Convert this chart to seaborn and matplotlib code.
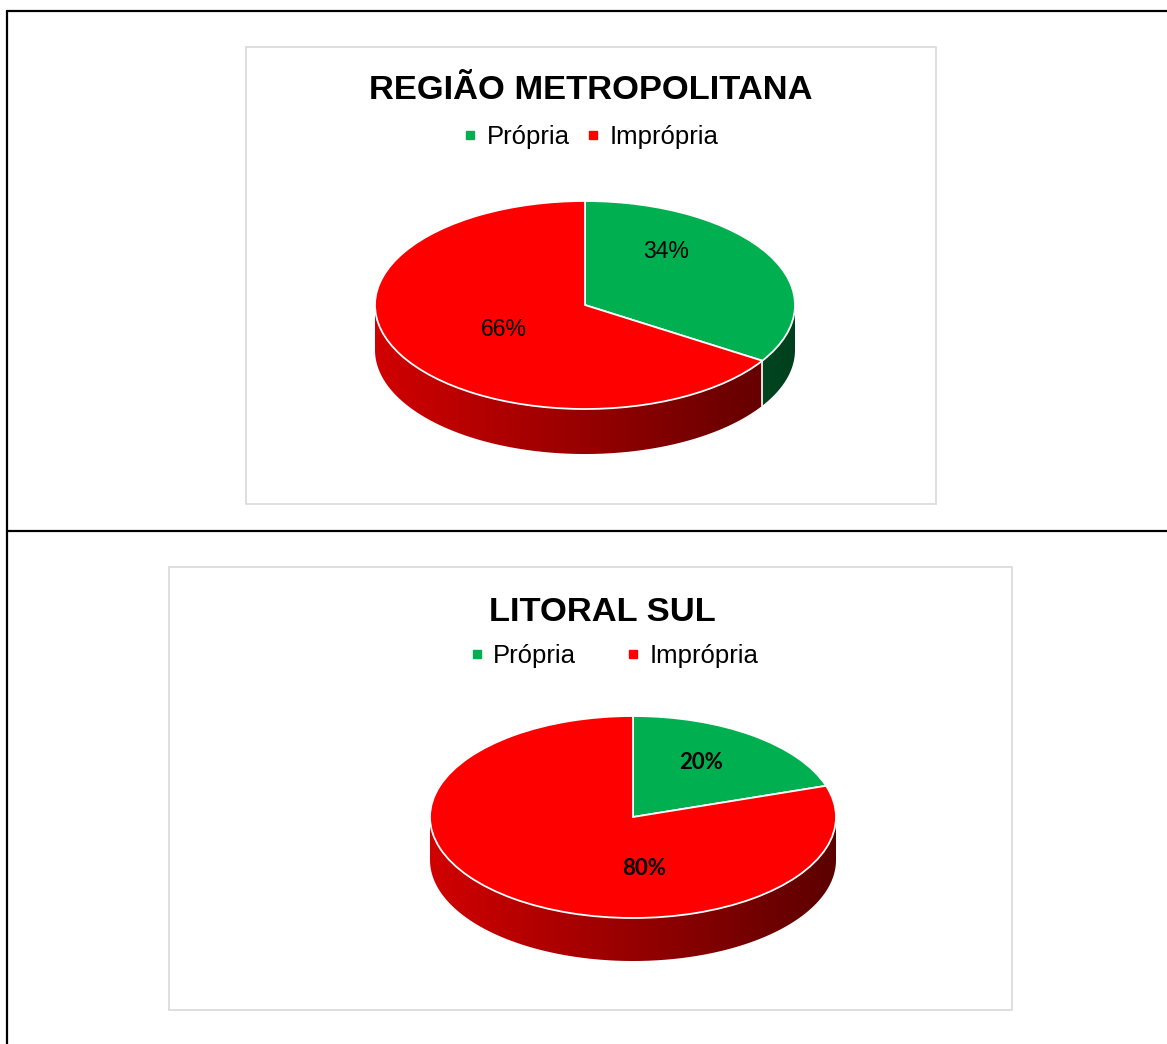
import numpy as np
import matplotlib
matplotlib.use("Agg")
import matplotlib.pyplot as plt
import seaborn as sns
from matplotlib.lines import Line2D
from matplotlib.patches import Rectangle, Polygon
from matplotlib.colors import to_rgb

# data
categories = ["Própria", "Imprópria"]
metro_values = [34, 66]
sul_values = [20, 80]
metro_title = "REGIÃO METROPOLITANA"
sul_title = "LITORAL SUL"
palette = ["#00B050", "#FF0000"]

W, H = 1167, 1044
sns.set_theme(style="white")
plt.rcParams["font.family"] = ["Liberation Sans", "DejaVu Sans"]
plt.rcParams["text.color"] = "black"

fig = plt.figure(figsize=(W / 100, H / 100), dpi=100)


def fx(x):
    return x / W


def fy(y):
    return 1 - y / H


# table borders
for xs, ys in [((7, W), (11, 11)), ((7, 7), (11, H)), ((7, W), (531, 531))]:
    fig.add_artist(Line2D([fx(x) for x in xs], [fy(y) for y in ys], color="black",
                          lw=1.6, transform=fig.transFigure))


def draw_panel(values, title, box, center, radii, depth, title_pos, legend_pos,
               colspacing, label_pos, label_font):
    x0, y0, x1, y1 = box
    fig.add_artist(Rectangle((fx(x0), fy(y1)), (x1 - x0) / W, (y1 - y0) / H,
                             transform=fig.transFigure, fill=False,
                             edgecolor="#D9D9D9", lw=1.2))
    cx, cy = center
    rx, ry = radii
    d = depth / ry
    m = 0.04
    ax = fig.add_axes([fx(cx - (1 + m) * rx), fy(cy + ry + depth + m * ry),
                       2 * (1 + m) * rx / W, ((2 + 2 * m) * ry + depth) / H])
    wedges, _, autotexts = ax.pie(values, colors=palette, startangle=90,
                                  counterclock=False, autopct="%.0f%%",
                                  wedgeprops=dict(edgecolor="white", linewidth=1.3),
                                  textprops=label_font)

    # side wall of the 3d pie, darker towards the right
    ramp = np.linspace(0.82, 0.36, 256)
    for w, col in zip(wedges, palette):
        for k in (-360, 0, 360, 720):
            a = max(w.theta1 + k, 180)
            b = min(w.theta2 + k, 360)
            if b <= a:
                continue
            t = np.radians(np.linspace(a, b, 150))
            xs, ys = np.cos(t), np.sin(t)
            poly = np.column_stack([np.r_[xs, xs[::-1]], np.r_[ys, ys[::-1] - d]])
            patch = Polygon(poly, closed=True, facecolor="none", edgecolor="none")
            ax.add_patch(patch)
            img = np.array(to_rgb(col))[None, None, :] * ramp[None, :, None]
            im = ax.imshow(img, extent=(-1, 1, -1 - d, 0), aspect="auto", zorder=0,
                           interpolation="bilinear")
            im.set_clip_path(patch)
        th = np.radians(w.theta1 % 360)
        if np.sin(th) < -0.01:
            ax.plot([np.cos(th)] * 2, [np.sin(th), np.sin(th) - d], color="white",
                    lw=1.2, zorder=0.5)

    ax.set_aspect("auto")
    ax.set_xlim(-1 - m, 1 + m)
    ax.set_ylim(-1 - d - m, 1 + m)
    ax.axis("off")

    for txt, pos in zip(autotexts, label_pos):
        txt.set_position(pos)
        txt.set_color("black")

    fig.text(fx(title_pos[0]), fy(title_pos[1]), title, ha="center", va="baseline",
             fontsize=24.8, fontweight="bold", color="black")

    handles = [Line2D([], [], marker="s", linestyle="", markersize=5.5, color=c)
               for c in palette]
    fig.legend(handles, categories, loc="center",
               bbox_to_anchor=(fx(legend_pos[0]), fy(legend_pos[1])),
               bbox_transform=fig.transFigure, ncol=2, frameon=False, fontsize=18.5,
               handlelength=0.4, handletextpad=0.45, columnspacing=colspacing,
               borderpad=0, borderaxespad=0, labelcolor="black")


draw_panel(metro_values, metro_title, box=(246, 47, 936, 504), center=(585, 305),
           radii=(210, 104), depth=45, title_pos=(591, 99), legend_pos=(592, 137),
           colspacing=0.7, label_pos=[(0.386, 0.51), (-0.386, -0.24)],
           label_font=dict(fontsize=16.5, family=["Liberation Sans", "DejaVu Sans"]))

draw_panel(sul_values, sul_title, box=(169, 567, 1012, 1010), center=(633, 817),
           radii=(203, 101), depth=43, title_pos=(602, 621), legend_pos=(615, 656),
           colspacing=2.0, label_pos=[(0.335, 0.535), (0.054, -0.505)],
           label_font=dict(fontsize=16, fontweight="bold", family=["Lato", "DejaVu Sans"]))

fig.savefig("out.png", dpi=100, facecolor="white")
